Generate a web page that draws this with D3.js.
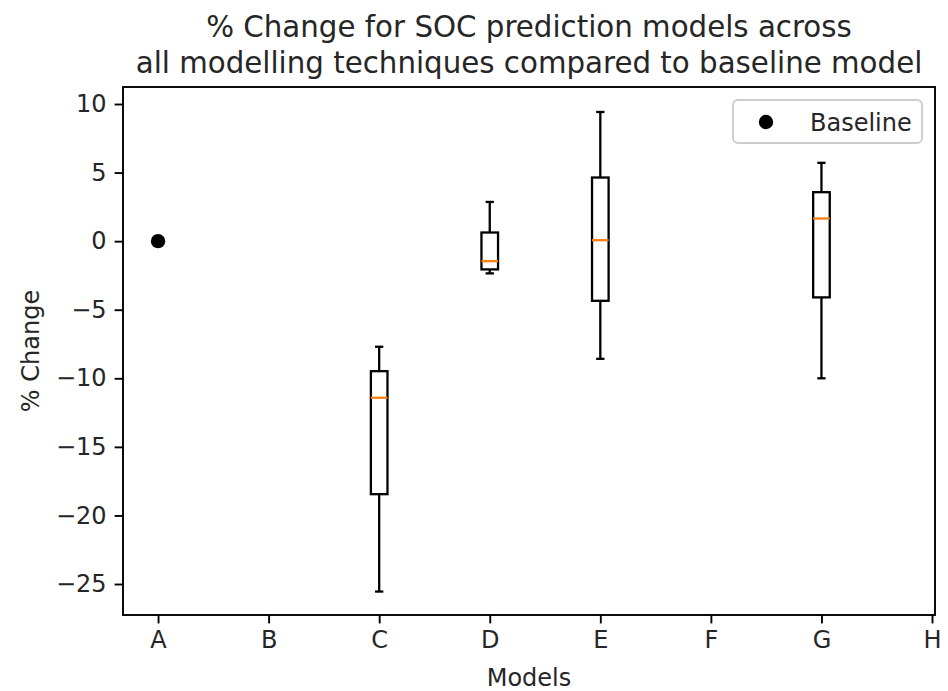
<!DOCTYPE html>
<html>
<head>
<meta charset="utf-8">
<script src="https://cdn.jsdelivr.net/npm/d3@7"></script>
<style>
  body { margin: 0; background: #fff; }
  svg { display: block; font-family: "DejaVu Sans", sans-serif; }
</style>
</head>
<body>
<svg id="chart" width="948" height="691"></svg>
<script>
// ---- data ----
const tickLabels = ["A", "B", "C", "D", "E", "F", "G", "H"];
const tickPositions = [1, 2, 3, 4, 5, 6, 7, 8];
const boxModels = ["C", "D", "E", "G"];
const boxPositions = [3, 4, 5, 7];
const whiskerLow = [-25.55, -2.35, -8.58, -10.0];
const q1 = [-18.45, -2.06, -4.35, -4.10];
const median = [-11.42, -1.46, 0.07, 1.65];
const q3 = [-9.48, 0.63, 4.64, 3.57];
const whiskerHigh = [-7.70, 2.86, 9.42, 5.71];
const baselineX = [1];
const baselineY = [0];
const yTicks = [10, 5, 0, -5, -10, -15, -20, -25];

// ---- layout ----
const svg = d3.select("#chart");
const L = 123, R = 935, T = 87, B = 615;
const x = d3.scaleLinear().domain([0.683, 8.027]).range([L, R]);
const y = d3.scaleLinear().domain([-27.26, 11.24]).range([B, T]);
const boxW = 0.15, capW = 0.075;
const lw = 2.3;

const fmt = d => (d < 0 ? "\u2212" + Math.abs(d) : String(d));

// axes
const yAxis = d3.axisLeft(y).tickValues(yTicks).tickFormat(fmt).tickSizeOuter(0).tickSize(8.4).tickPadding(8);
const xAxis = d3.axisBottom(x).tickValues(tickPositions).tickFormat((d, i) => tickLabels[i]).tickSizeOuter(0).tickSize(8.4).tickPadding(8);

const gy = svg.append("g").attr("transform", `translate(${L},0)`).call(yAxis);
const gx = svg.append("g").attr("transform", `translate(0,${B})`).call(xAxis);
[gx, gy].forEach(g => {
  g.select(".domain").remove();
  g.selectAll(".tick line").attr("stroke", "#000").attr("stroke-width", 1.9);
  g.selectAll(".tick text").attr("fill", "#262626").style("font-size", "24px").style("font-family", "DejaVu Sans");
});

// boxes
const boxes = svg.append("g");
boxPositions.forEach((p, i) => {
  const g = boxes.append("g");
  const xc = x(p);
  const half = x(p + boxW / 2) - xc;
  const capHalf = x(p + capW / 2) - xc;
  // whiskers
  g.append("line").attr("x1", xc).attr("x2", xc).attr("y1", y(q3[i])).attr("y2", y(whiskerHigh[i]))
    .attr("stroke", "#000").attr("stroke-width", lw);
  g.append("line").attr("x1", xc).attr("x2", xc).attr("y1", y(q1[i])).attr("y2", y(whiskerLow[i]))
    .attr("stroke", "#000").attr("stroke-width", lw);
  // caps
  g.append("line").attr("x1", xc - capHalf).attr("x2", xc + capHalf).attr("y1", y(whiskerHigh[i])).attr("y2", y(whiskerHigh[i]))
    .attr("stroke", "#000").attr("stroke-width", lw);
  g.append("line").attr("x1", xc - capHalf).attr("x2", xc + capHalf).attr("y1", y(whiskerLow[i])).attr("y2", y(whiskerLow[i]))
    .attr("stroke", "#000").attr("stroke-width", lw);
  // box
  g.append("rect").attr("x", xc - half).attr("width", 2 * half)
    .attr("y", y(q3[i])).attr("height", y(q1[i]) - y(q3[i]))
    .attr("fill", "none").attr("stroke", "#000").attr("stroke-width", lw);
  // median
  g.append("line").attr("x1", xc - half).attr("x2", xc + half).attr("y1", y(median[i])).attr("y2", y(median[i]))
    .attr("stroke", "#ff7f0e").attr("stroke-width", lw);
});

// baseline point
svg.append("g").selectAll("circle").data(baselineX).join("circle")
  .attr("cx", d => x(d)).attr("cy", (d, i) => y(baselineY[i])).attr("r", 7.2).attr("fill", "#000");

// frame
svg.append("rect").attr("x", L).attr("y", T).attr("width", R - L).attr("height", B - T)
  .attr("fill", "none").attr("stroke", "#000").attr("stroke-width", 1.9);

// legend
const lg = svg.append("g");
lg.append("rect").attr("x", 733).attr("y", 100).attr("width", 189).attr("height", 43).attr("rx", 5)
  .attr("fill", "#fff").attr("fill-opacity", 0.8).attr("stroke", "#ccc").attr("stroke-width", 1.9);
lg.append("circle").attr("cx", 766).attr("cy", 122).attr("r", 7.2).attr("fill", "#000");
lg.append("text").attr("x", 810).attr("y", 130.5).text("Baseline")
  .style("font-size", "24px").attr("fill", "#262626");

// title
const title = svg.append("text").attr("text-anchor", "middle").attr("fill", "#262626").style("font-size", "29.3px");
title.append("tspan").attr("x", (L + R) / 2).attr("y", 37).text("% Change for SOC prediction models across");
title.append("tspan").attr("x", (L + R) / 2).attr("y", 73).text("all modelling techniques compared to baseline model");

// axis labels
svg.append("text").attr("x", (L + R) / 2).attr("y", 686).attr("text-anchor", "middle")
  .style("font-size", "24px").attr("fill", "#262626").text("Models");
svg.append("text").attr("transform", `translate(38.5,${(T + B) / 2}) rotate(-90)`).attr("text-anchor", "middle")
  .style("font-size", "24px").attr("fill", "#262626").text("% Change");
</script>
</body>
</html>
